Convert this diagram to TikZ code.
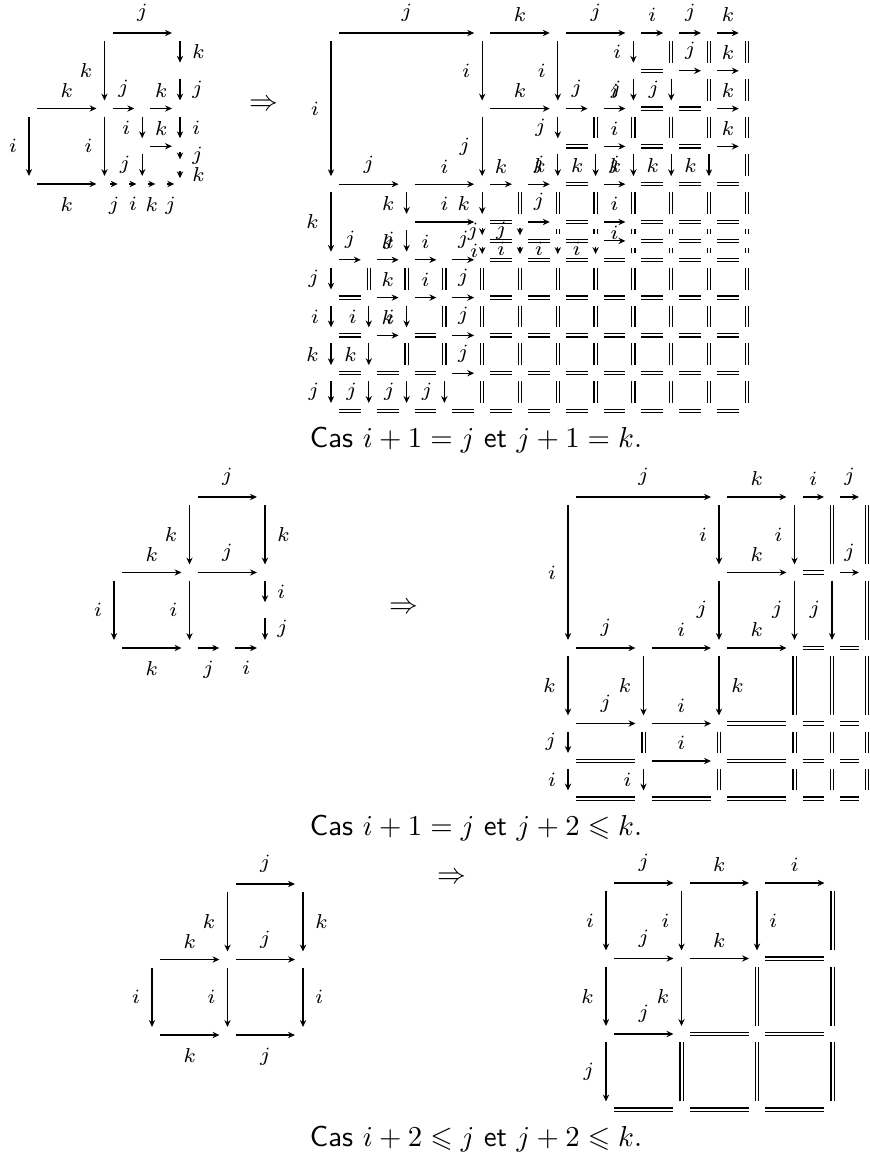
\documentclass[tikz,border=0pt]{standalone}
\usepackage{amssymb}
\usetikzlibrary{arrows.meta}
\newcommand\dAr[4]{\draw[ar] (#1) -- node[#3]{$#4$} (#2);}
\newcommand\dSar[4]{\draw[sar] (#1) -- node[#3]{$#4$} (#2);}
\newcommand\vEqs[2]{\foreach \c/\r in {#2}{\pgfmathtruncatemacro\nr{\r+1}\draw[eq] (#1-\c-\r) -- (#1-\c-\nr);}}
\newcommand\hEqs[2]{\foreach \c/\r in {#2}{\pgfmathtruncatemacro\nc{\c+1}\draw[eq] (#1-\c-\r) -- (#1-\nc-\r);}}
\begin{document}
\begin{tikzpicture}[x=0.3472pt,y=-0.3472pt,
  ar/.style={-{Stealth[length=2.4pt,width=2.2pt,inset=0.8pt]}, line width=0.36pt, shorten <=2.8pt, shorten >=2.8pt},
  sar/.style={ar, shorten <=2pt, shorten >=2pt},
  eq/.style={double, double distance=0.7pt, line width=0.4pt, shorten <=2.8pt, shorten >=2.8pt},
  seq/.style={eq, shorten <=2.5pt, shorten >=2.5pt},
  lab/.style={font=\scriptsize, inner sep=0pt},
  la/.style={lab, above=3.7pt},
  las/.style={lab, above=0.3pt},
  lb/.style={lab, below=4.5pt},
  ll/.style={lab, left=4pt},
  lls/.style={lab, left=1.2pt},
  lr/.style={lab, right=4pt}]
\useasboundingbox (0,0) rectangle (870,1156);
% ---------- grids ----------
\foreach \c in {0,...,4}{\foreach \r in {0,...,4}{\coordinate (A-\c-\r) at ({29+37.75*\c},{33+37.75*\r});}}
\coordinate (A-4-3h) at (180,165.1);
\coordinate (A-2h-4) at (123.4,184);
\coordinate (A-3h-4) at (161.1,184);
\foreach \c in {0,...,11}{\foreach \r in {0,...,10}{\coordinate (B-\c-\r) at ({331+37.8*\c},{33+37.8*\r});}
  \coordinate (B-\c-h) at ({331+37.8*\c},240.9);}
\foreach \c in {0,...,2}{\foreach \r in {0,...,2}{\coordinate (C-\c-\r) at ({114+75.5*\c},{497+75.5*\r});}}
\coordinate (C-2-1h) at (265,610.25);
\coordinate (C-1h-2) at (227.25,648);
\foreach \x [count=\c from 0] in {568,643.5,719,794.5,832,867}{\foreach \y [count=\r from 0] in {497,572.5,648,723.5,761,798.5}{\coordinate (D-\c-\r) at (\x,\y);}}
\foreach \c in {0,...,2}{\foreach \r in {0,...,2}{\coordinate (E-\c-\r) at ({152+75.5*\c},{884+75.5*\r});}}
\foreach \c in {0,...,3}{\foreach \r in {0,...,3}{\coordinate (F-\c-\r) at ({606+75.5*\c},{883+75.5*\r});}}
% ---------- diagram A ----------
\dAr{A-2-0}{A-4-0}{la}{j}
\dAr{A-2-0}{A-2-2}{ll}{k}
\dAr{A-4-0}{A-4-1}{lr}{k}
\dAr{A-4-1}{A-4-2}{lr}{j}
\dAr{A-0-2}{A-2-2}{la}{k}
\dAr{A-2-2}{A-3-2}{la}{j}
\dAr{A-3-2}{A-4-2}{la}{k}
\dAr{A-0-2}{A-0-4}{ll}{i}
\dAr{A-2-2}{A-2-4}{ll}{i}
\dAr{A-3-2}{A-3-3}{ll}{i}
\dAr{A-4-2}{A-4-3}{lr}{i}
\dAr{A-3-3}{A-4-3}{la}{k}
\dAr{A-3-3}{A-3-4}{ll}{j}
\dSar{A-4-3}{A-4-3h}{lr}{j}
\dSar{A-4-3h}{A-4-4}{lr}{k}
\dAr{A-0-4}{A-2-4}{lb}{k}
\dSar{A-2-4}{A-2h-4}{lb}{j}
\dSar{A-2h-4}{A-3-4}{lb}{i}
\dSar{A-3-4}{A-3h-4}{lb}{k}
\dSar{A-3h-4}{A-4-4}{lb}{j}
\node (impA) at (264,105) {$\Rightarrow$};
% ---------- diagram B ----------
\vEqs{B}{9/0,10/0,11/0,10/1,11/1,7/2,8/2,9/2,10/2,11/2,11/3,5/4,6/4,7/4,8/4,9/4,10/4,11/4}
\foreach \r/\s in {6/1,7/3,8/2,9/4}{\pgfmathtruncatemacro\nr{\r+1}\foreach \c in {\s,...,11}{\draw[eq] (B-\c-\r) -- (B-\c-\nr);}}
\foreach \c in {6,...,11}{\draw[seq] (B-\c-5) -- (B-\c-h);}
\foreach \c in {8,...,11}{\draw[seq] (B-\c-h) -- (B-\c-6);}
\hEqs{B}{8/1,8/2,9/2,6/3,8/3,9/3,6/4,8/4,9/4,10/4,4/5,6/5,8/5,9/5,10/5,5/h,6/h,8/h,9/h,10/h,7/6,8/6,9/6,10/6,0/7,0/8,2/8,0/9,1/9,2/9,0/10,1/10,2/10,3/10}
\foreach \r in {7,...,10}{\foreach \c in {4,...,10}{\pgfmathtruncatemacro\nc{\c+1}\draw[eq] (B-\c-\r) -- (B-\nc-\r);}}
\draw[eq] (B-4-h) -- node[las]{$j$} (B-5-h);
\draw[eq] (B-4-6) -- node[lab,above=1.2pt]{$i$} (B-5-6);
\draw[eq] (B-5-6) -- node[lab,above=1.2pt]{$i$} (B-6-6);
\draw[eq] (B-6-6) -- node[lab,above=1.2pt]{$i$} (B-7-6);
\dAr{B-0-0}{B-4-0}{la}{j}
\dAr{B-4-0}{B-6-0}{la}{k}
\dAr{B-6-0}{B-8-0}{la}{j}
\dAr{B-8-0}{B-9-0}{la}{i}
\dAr{B-9-0}{B-10-0}{la}{j}
\dAr{B-10-0}{B-11-0}{la}{k}
\dAr{B-0-0}{B-0-4}{ll}{i}
\dAr{B-4-0}{B-4-2}{ll}{i}
\dAr{B-6-0}{B-6-2}{ll}{i}
\dAr{B-8-0}{B-8-1}{ll}{i}
\dAr{B-9-1}{B-10-1}{la}{j}
\dAr{B-10-1}{B-11-1}{la}{k}
\dAr{B-8-1}{B-8-2}{ll}{j}
\dAr{B-9-1}{B-9-2}{ll}{j}
\dAr{B-4-2}{B-6-2}{la}{k}
\dAr{B-6-2}{B-7-2}{la}{j}
\dAr{B-7-2}{B-8-2}{la}{i}
\dAr{B-10-2}{B-11-2}{la}{k}
\dAr{B-4-2}{B-4-4}{ll}{j}
\dAr{B-6-2}{B-6-3}{ll}{j}
\dAr{B-7-3}{B-8-3}{la}{i}
\dAr{B-10-3}{B-11-3}{la}{k}
\foreach \c in {6,...,10}{\dAr{B-\c-3}{B-\c-4}{ll}{k}}
\dAr{B-0-4}{B-2-4}{la}{j}
\dAr{B-2-4}{B-4-4}{la}{i}
\dAr{B-4-4}{B-5-4}{la}{k}
\dAr{B-5-4}{B-6-4}{la}{j}
\dAr{B-7-4}{B-8-4}{la}{j}
\dAr{B-0-4}{B-0-6}{ll}{k}
\dAr{B-2-4}{B-2-5}{ll}{k}
\dAr{B-4-4}{B-4-5}{ll}{k}
\dAr{B-2-5}{B-4-5}{la}{i}
\dAr{B-5-5}{B-6-5}{la}{j}
\dAr{B-7-5}{B-8-5}{la}{i}
\dAr{B-2-5}{B-2-6}{ll}{j}
\dSar{B-4-5}{B-4-h}{lls}{j}
\draw[sar] (B-5-5) -- (B-5-h);
\dSar{B-4-h}{B-4-6}{lls}{i}
\foreach \c in {5,6,7}{\draw[sar] (B-\c-h) -- (B-\c-6);}
\draw[ar] (B-7-h) -- node[las]{$i$} (B-8-h);
\dAr{B-0-6}{B-1-6}{la}{j}
\dAr{B-1-6}{B-2-6}{la}{k}
\dAr{B-2-6}{B-3-6}{la}{i}
\dAr{B-3-6}{B-4-6}{la}{j}
\dAr{B-0-6}{B-0-7}{ll}{j}
\dAr{B-1-7}{B-2-7}{la}{k}
\dAr{B-2-7}{B-3-7}{la}{i}
\dAr{B-3-7}{B-4-7}{la}{j}
\foreach \c in {0,1,2}{\dAr{B-\c-7}{B-\c-8}{ll}{i}}
\dAr{B-1-8}{B-2-8}{la}{k}
\dAr{B-3-8}{B-4-8}{la}{j}
\foreach \c in {0,1}{\dAr{B-\c-8}{B-\c-9}{ll}{k}}
\dAr{B-3-9}{B-4-9}{la}{j}
\foreach \c in {0,...,3}{\dAr{B-\c-9}{B-\c-10}{ll}{j}}
\node[anchor=base] (capA) at (476,447) {\textsf{Cas} $i+1=j$ \textsf{et} $j+1=k$.};
% ---------- diagram C ----------
\dAr{C-1-0}{C-2-0}{la}{j}
\dAr{C-1-0}{C-1-1}{ll}{k}
\dAr{C-2-0}{C-2-1}{lr}{k}
\dAr{C-0-1}{C-1-1}{la}{k}
\dAr{C-1-1}{C-2-1}{la}{j}
\dAr{C-0-1}{C-0-2}{ll}{i}
\dAr{C-1-1}{C-1-2}{ll}{i}
\dAr{C-2-1}{C-2-1h}{lr}{i}
\dAr{C-2-1h}{C-2-2}{lr}{j}
\dAr{C-0-2}{C-1-2}{lb}{k}
\dAr{C-1-2}{C-1h-2}{lb}{j}
\dAr{C-1h-2}{C-2-2}{lb}{i}
\node (impC) at (404,608) {$\Rightarrow$};
% ---------- diagram D ----------
\vEqs{D}{4/0,5/0,5/1,3/2,4/2,5/2,1/3,2/3,3/3,4/3,5/3,2/4,3/4,4/4,5/4}
\hEqs{D}{3/1,3/2,4/2,2/3,3/3,4/3,0/4,2/4,3/4,4/4,0/5,1/5,2/5,3/5,4/5}
\dAr{D-0-0}{D-2-0}{la}{j}
\dAr{D-2-0}{D-3-0}{la}{k}
\dAr{D-3-0}{D-4-0}{la}{i}
\dAr{D-4-0}{D-5-0}{la}{j}
\dAr{D-0-0}{D-0-2}{ll}{i}
\dAr{D-2-0}{D-2-1}{ll}{i}
\dAr{D-3-0}{D-3-1}{ll}{i}
\dAr{D-2-1}{D-3-1}{la}{k}
\dAr{D-4-1}{D-5-1}{la}{j}
\dAr{D-2-1}{D-2-2}{ll}{j}
\dAr{D-3-1}{D-3-2}{ll}{j}
\dAr{D-4-1}{D-4-2}{ll}{j}
\dAr{D-0-2}{D-1-2}{la}{j}
\dAr{D-1-2}{D-2-2}{la}{i}
\dAr{D-2-2}{D-3-2}{la}{k}
\dAr{D-0-2}{D-0-3}{ll}{k}
\dAr{D-1-2}{D-1-3}{ll}{k}
\dAr{D-2-2}{D-2-3}{lr}{k}
\dAr{D-0-3}{D-1-3}{la}{j}
\dAr{D-1-3}{D-2-3}{la}{i}
\dAr{D-0-3}{D-0-4}{ll}{j}
\dAr{D-1-4}{D-2-4}{la}{i}
\dAr{D-0-4}{D-0-5}{ll}{i}
\dAr{D-1-4}{D-1-5}{ll}{i}
\node[anchor=base] (capC) at (476,835) {\textsf{Cas} $i+1=j$ \textsf{et} $j+2\leqslant k$.};
% ---------- diagram E ----------
\dAr{E-1-0}{E-2-0}{la}{j}
\dAr{E-1-0}{E-1-1}{ll}{k}
\dAr{E-2-0}{E-2-1}{lr}{k}
\dAr{E-0-1}{E-1-1}{la}{k}
\dAr{E-1-1}{E-2-1}{la}{j}
\dAr{E-0-1}{E-0-2}{ll}{i}
\dAr{E-1-1}{E-1-2}{ll}{i}
\dAr{E-2-1}{E-2-2}{lr}{i}
\dAr{E-0-2}{E-1-2}{lb}{k}
\dAr{E-1-2}{E-2-2}{lb}{j}
\node (impE) at (452,878) {$\Rightarrow$};
% ---------- diagram F ----------
\vEqs{F}{3/0,2/1,3/1,1/2,2/2,3/2}
\hEqs{F}{2/1,1/2,2/2,0/3,1/3,2/3}
\dAr{F-0-0}{F-1-0}{la}{j}
\dAr{F-1-0}{F-2-0}{la}{k}
\dAr{F-2-0}{F-3-0}{la}{i}
\dAr{F-0-0}{F-0-1}{ll}{i}
\dAr{F-1-0}{F-1-1}{ll}{i}
\dAr{F-2-0}{F-2-1}{lr}{i}
\dAr{F-0-1}{F-1-1}{la}{j}
\dAr{F-1-1}{F-2-1}{la}{k}
\dAr{F-0-1}{F-0-2}{ll}{k}
\dAr{F-1-1}{F-1-2}{ll}{k}
\dAr{F-0-2}{F-1-2}{la}{j}
\dAr{F-0-2}{F-0-3}{ll}{j}
\node[anchor=base] (capE) at (476,1146) {\textsf{Cas} $i+2\leqslant j$ \textsf{et} $j+2\leqslant k$.};
\end{tikzpicture}
\end{document}
